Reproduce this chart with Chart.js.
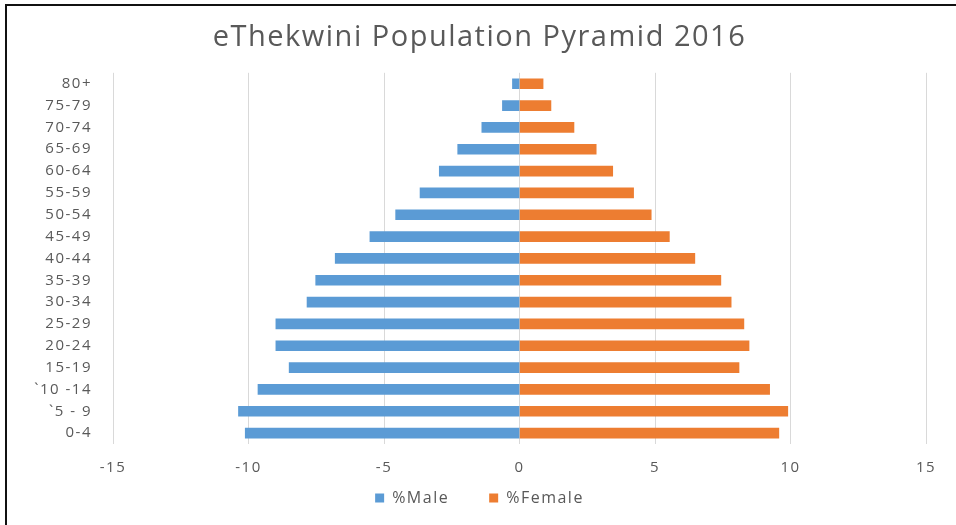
<!DOCTYPE html>
<html>
<head>
  <meta charset="UTF-8">
  <title>eThekwini Population Pyramid 2016</title>
  <script src="https://cdn.jsdelivr.net/npm/chart.js@4/dist/chart.umd.min.js"></script>
  <style>
    body {
      margin: 0;
      background: #fff;
    }
    .wrap {
      position: relative;
      width: 956px;
      height: 525px;
    }
    .frame {
      position: absolute;
      top: 4px;
      left: 5px;
      right: 0;
      bottom: 0;
      border-top: 2px solid #111;
      border-left: 2px solid #111;
      pointer-events: none;
    }
  </style>
</head>
<body>
  <div class="wrap">
    <canvas id="chart" width="956" height="525"></canvas>
    <div class="frame"></div>
  </div>

<script>
// age groups, top of the pyramid first
const ageGroups = ["80+", "75-79", "70-74", "65-69", "60-64", "55-59", "50-54", "45-49",
  "40-44", "35-39", "30-34", "25-29", "20-24", "15-19", "`10 -14", "`5 - 9", "0-4"];

// % of population, male shown as negative
const malePct = [-0.26, -0.63, -1.39, -2.28, -2.96, -3.67, -4.57, -5.52,
  -6.80, -7.52, -7.84, -8.99, -8.99, -8.50, -9.65, -10.37, -10.12];
const femalePct = [0.87, 1.16, 2.01, 2.83, 3.44, 4.21, 4.86, 5.53,
  6.47, 7.43, 7.81, 8.28, 8.47, 8.10, 9.23, 9.90, 9.57];

const xTicks = [-15, -10, -5, 0, 5, 10, 15];

const textColor = "#595959";
const fontFamily = "'Open Sans', sans-serif";

// the original text is set a bit wide, loosen the letters a little
const spacing = {
  id: "spacing",
  beforeUpdate: (chart) => { chart.ctx.letterSpacing = "1.5px"; },
  beforeDraw: (chart) => { chart.ctx.letterSpacing = "1.5px"; }
};

new Chart(document.getElementById("chart"), {
  type: "bar",
  data: {
    labels: ageGroups,
    datasets: [
      { label: "%Male", data: malePct, backgroundColor: "#5b9bd5", barThickness: 10 },
      { label: "%Female", data: femalePct, backgroundColor: "#ed7d31", barThickness: 10 }
    ]
  },
  options: {
    indexAxis: "y",
    responsive: false,
    animation: false,
    layout: { padding: { left: 33, right: 30, top: 0, bottom: 9 } },
    scales: {
      x: {
        stacked: true,
        min: -15,
        max: 15,
        afterBuildTicks: (axis) => { axis.ticks = xTicks.map(v => ({ value: v })); },
        // keep the axis box thin so the legend can sit lower; labels are pushed down via mirror
        afterFit: (axis) => { axis.height = 6; },
        grid: { color: "#d9d9d9", drawTicks: false },
        border: { display: false },
        ticks: { color: textColor, font: { family: fontFamily, size: 15 }, mirror: true, padding: -33 }
      },
      y: {
        stacked: true,
        grid: { display: false },
        border: { display: false },
        afterFit: (axis) => { axis.width = 80; },
        ticks: { color: textColor, font: { family: fontFamily, size: 15 }, padding: 13, autoSkip: false }
      }
    },
    plugins: {
      title: {
        display: true,
        text: "eThekwini Population Pyramid 2016",
        color: textColor,
        font: { family: fontFamily, size: 29, weight: "normal" },
        padding: { top: 20, bottom: 18 }
      },
      legend: {
        position: "bottom",
        maxHeight: 76,
        labels: {
          color: textColor,
          font: { family: fontFamily, size: 16 },
          boxWidth: 9,
          boxHeight: 9,
          padding: 40
        }
      },
      tooltip: { enabled: false }
    }
  },
  plugins: [spacing]
});
</script>
</body>
</html>
